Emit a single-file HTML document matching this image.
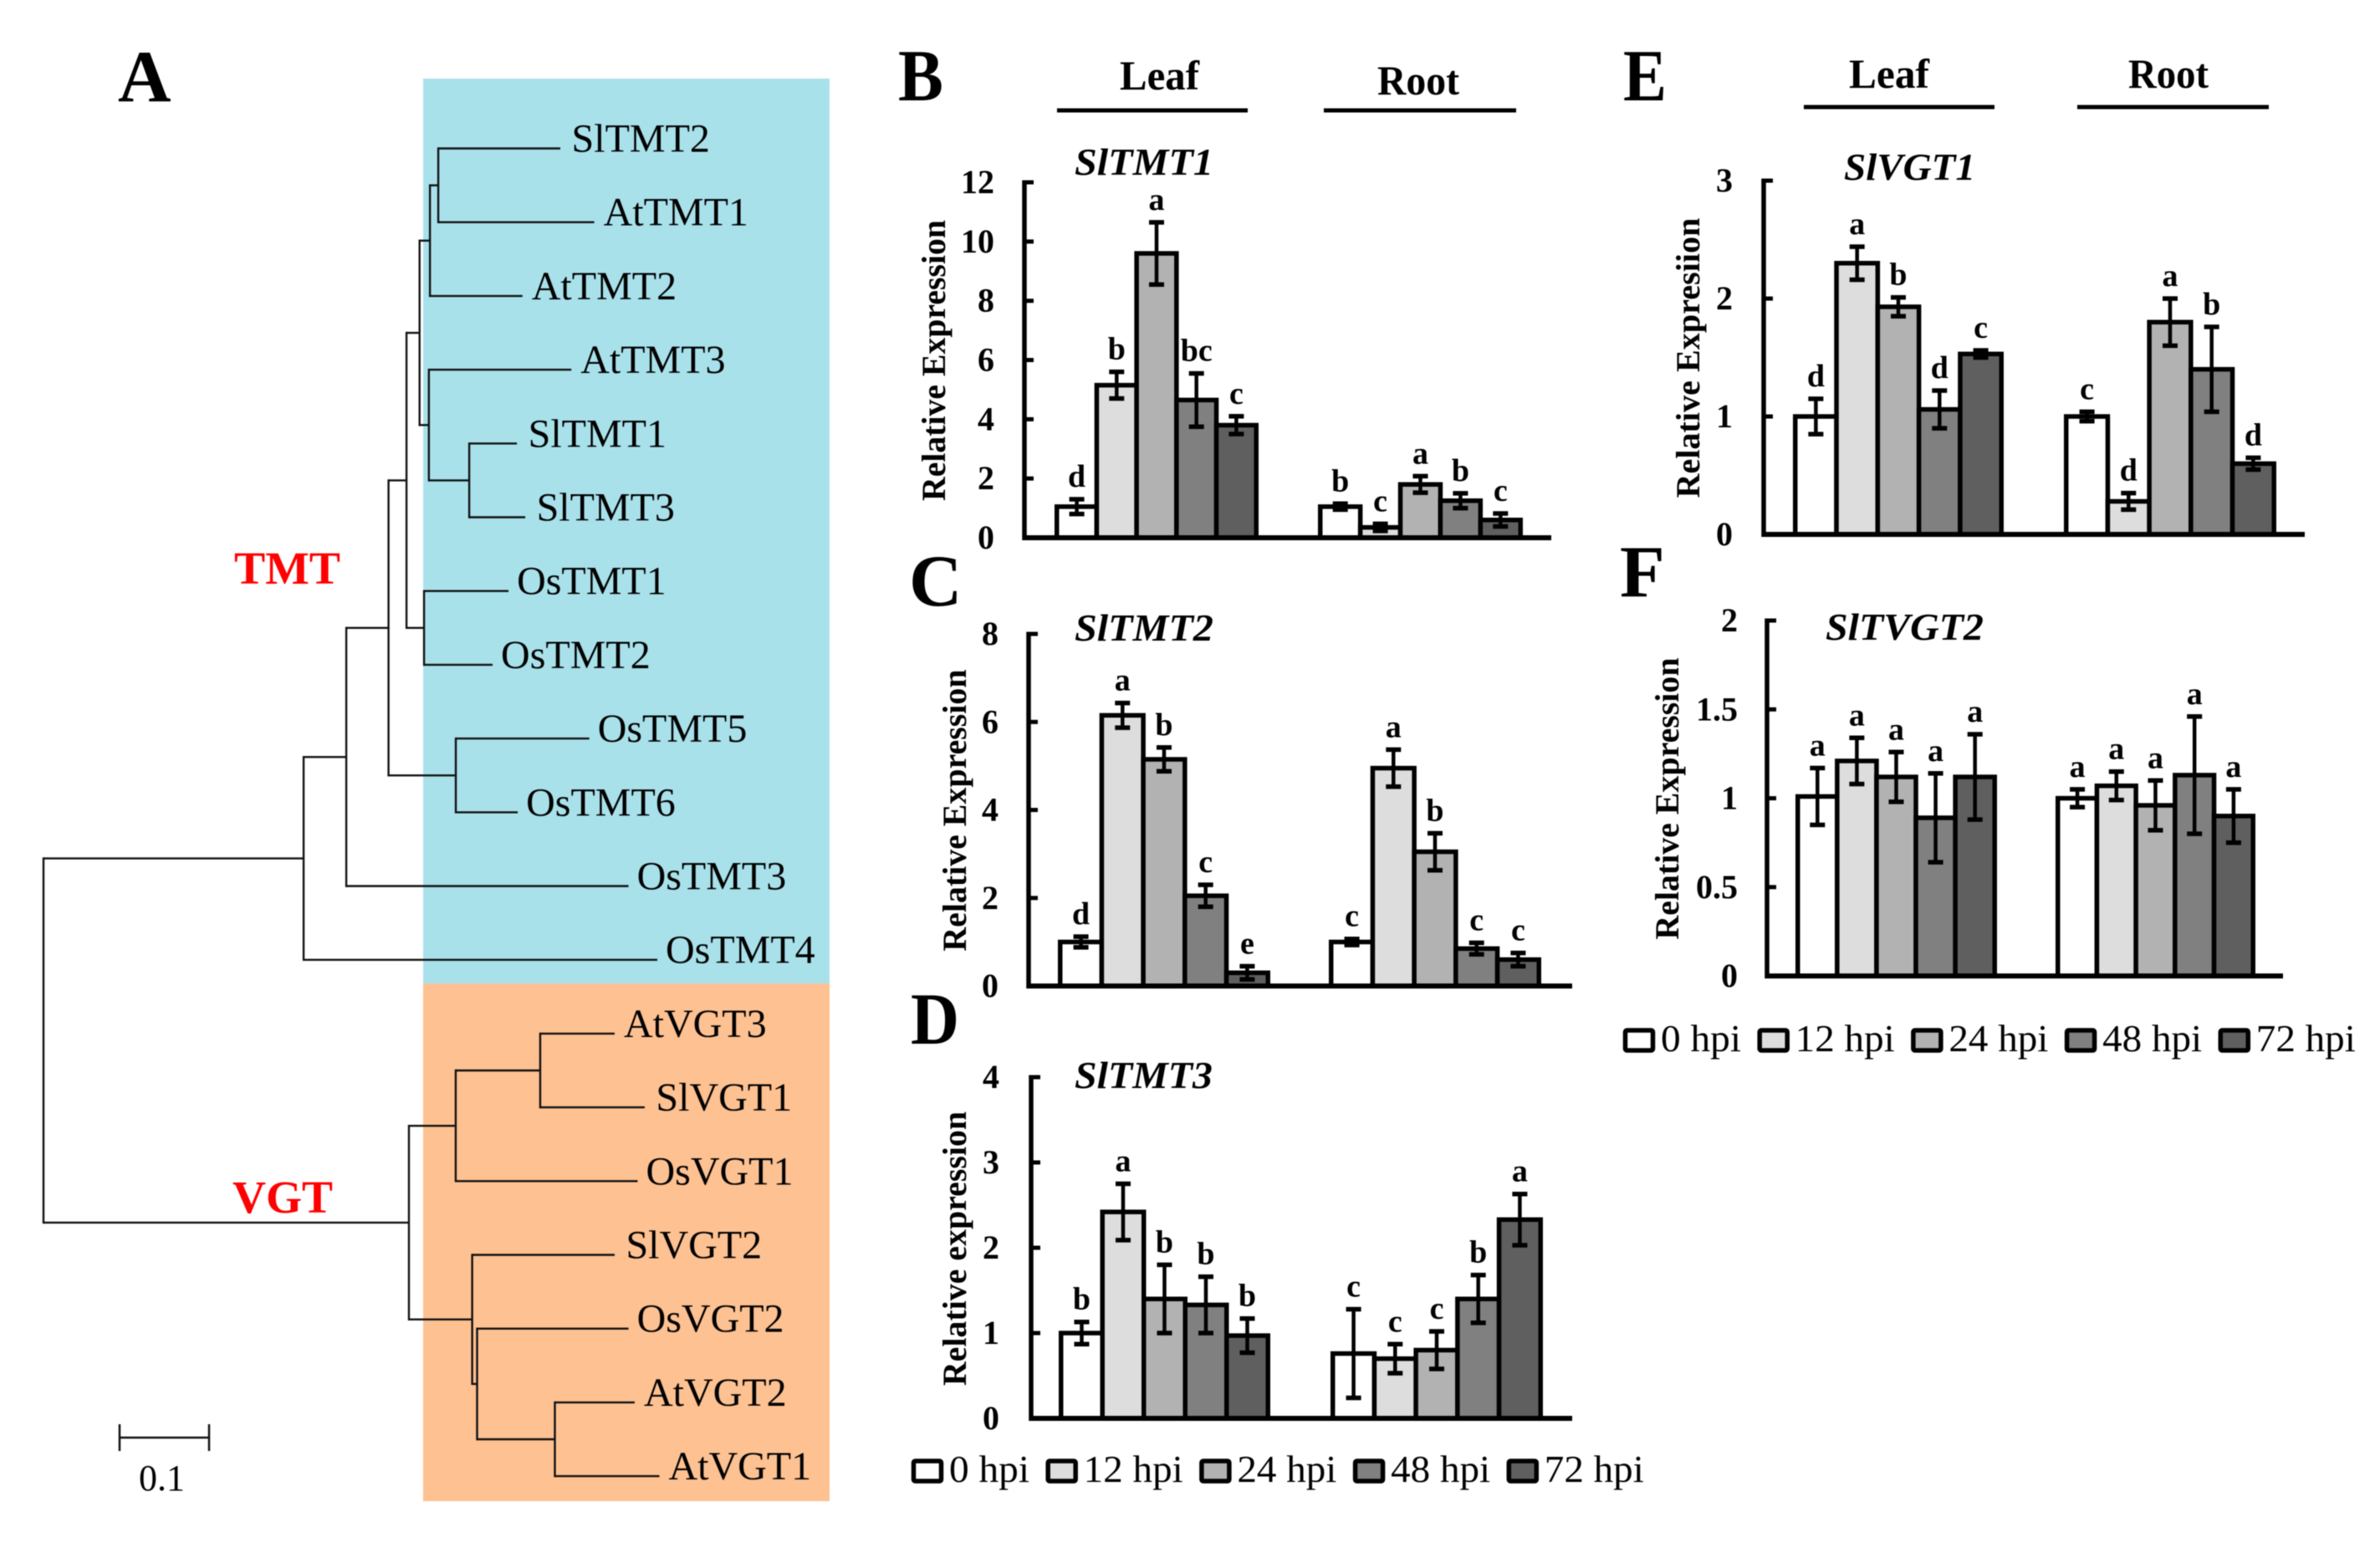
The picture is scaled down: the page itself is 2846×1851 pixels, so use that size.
<!DOCTYPE html>
<html lang="en">
<head>
<meta charset="utf-8">
<title>TMT and VGT phylogeny and expression</title>
<style>
html,body{margin:0;padding:0;background:#fff;}
svg{display:block;filter:blur(0.6px);}
text{font-family:"Liberation Serif",serif;fill:#000;}
.title{font-weight:bold;font-style:italic;font-size:46px;}
.ytitle{font-weight:bold;font-size:40px;}
.head{font-weight:bold;font-size:50px;}
.letter{font-weight:bold;font-size:88px;}
.clade{font-weight:bold;font-size:55px;fill:#f00;}
</style>
</head>
<body>
<svg id="figure" xmlns="http://www.w3.org/2000/svg" width="2846" height="1851" viewBox="0 0 2846 1851">
  <rect x="0" y="0" width="2846" height="1851" fill="#fff"/>
  <rect x="506" y="94" width="486" height="1082" fill="#a9e1eb"/>
  <rect x="506" y="1176" width="486" height="619" fill="#fdc192"/>
  <g id="tree"></g>

  <text class="letter" x="141" y="121">A</text>
  <text class="letter" x="1074" y="120" textLength="54" lengthAdjust="spacingAndGlyphs">B</text>
  <text class="letter" x="1087" y="724">C</text>
  <text class="letter" x="1089" y="1248" textLength="58" lengthAdjust="spacingAndGlyphs">D</text>
  <text class="letter" x="1941" y="120" textLength="52" lengthAdjust="spacingAndGlyphs">E</text>
  <text class="letter" x="1937" y="713">F</text>

  <text class="clade" x="280" y="698" textLength="127" lengthAdjust="spacingAndGlyphs">TMT</text>
  <text class="clade" x="278" y="1450" textLength="120" lengthAdjust="spacingAndGlyphs">VGT</text>

  <g stroke="#111" stroke-width="2.5">
    <line x1="143" y1="1719" x2="250" y2="1719"/>
    <line x1="143" y1="1703" x2="143" y2="1735"/>
    <line x1="250" y1="1703" x2="250" y2="1735"/>
  </g>
  <text x="166" y="1782" font-size="44">0.1</text>

  <text class="head" x="1339" y="107" textLength="95" lengthAdjust="spacingAndGlyphs">Leaf</text>
  <text class="head" x="1647" y="113" textLength="98" lengthAdjust="spacingAndGlyphs">Root</text>
  <rect x="1264" y="129.5" width="228" height="5"/>
  <rect x="1583" y="129.5" width="230" height="5"/>
  <text class="head" x="2211" y="105" textLength="96" lengthAdjust="spacingAndGlyphs">Leaf</text>
  <text class="head" x="2545" y="105" textLength="96" lengthAdjust="spacingAndGlyphs">Root</text>
  <rect x="2157" y="125.5" width="228" height="5"/>
  <rect x="2484" y="125.5" width="229" height="5"/>

  <text class="title" x="1285" y="209" textLength="166" lengthAdjust="spacingAndGlyphs">SlTMT1</text>
  <text class="title" x="1285" y="766" textLength="166" lengthAdjust="spacingAndGlyphs">SlTMT2</text>
  <text class="title" x="1285" y="1301" textLength="165" lengthAdjust="spacingAndGlyphs">SlTMT3</text>
  <text class="title" x="2205" y="215" textLength="157" lengthAdjust="spacingAndGlyphs">SlVGT1</text>
  <text class="title" x="2183" y="765" textLength="189" lengthAdjust="spacingAndGlyphs">SlTVGT2</text>

  <text class="ytitle" text-anchor="middle" transform="translate(1130,431) rotate(-90)" textLength="336" lengthAdjust="spacingAndGlyphs">Relative Expression</text>
  <text class="ytitle" text-anchor="middle" transform="translate(1155,969) rotate(-90)" textLength="337" lengthAdjust="spacingAndGlyphs">Relative Expression</text>
  <text class="ytitle" text-anchor="middle" transform="translate(1155,1493) rotate(-90)" textLength="328" lengthAdjust="spacingAndGlyphs">Relative expression</text>
  <text class="ytitle" text-anchor="middle" transform="translate(2032,428) rotate(-90)" textLength="335" lengthAdjust="spacingAndGlyphs">Relative Expresiion</text>
  <text class="ytitle" text-anchor="middle" transform="translate(2007,955) rotate(-90)" textLength="337" lengthAdjust="spacingAndGlyphs">Relative Expression</text>

  <g id="panel-b"></g>
  <g id="panel-c"></g>
  <g id="panel-d"></g>
  <g id="panel-e"></g>
  <g id="panel-f"></g>
  <g id="legend-d"></g>
  <g id="legend-f"></g>
</svg>
<script>
// Phylogeny: [branch length, name] or [branch length, child, child]
const treeData = [0,
  [0.2907,
    [0.0477,
      [0.0472,
        [0.0201,
          [0.0146,
            [0.0116,
              [0.0093, [0.1364, 'SlTMT2'], [0.1743, 'AtTMT1']],
              [0.1034, 'AtTMT2']],
            [0.0104,
              [0.1592, 'AtTMT3'],
              [0.0451, [0.0533, 'SlTMT1'], [0.0626, 'SlTMT3']]]],
          [0.0196, [0.0944, 'OsTMT1'], [0.0766, 'OsTMT2']]],
        [0.0752, [0.1492, 'OsTMT5'], [0.0692, 'OsTMT6']]],
      [0.3154, 'OsTMT3']],
    [0.3953, 'OsTMT4']],
  [0.4084,
    [0.0523,
      [0.0944, [0.0832, 'AtVGT3'], [0.1168, 'SlVGT1']],
      [0.2033, 'OsVGT1']],
    [0.0707,
      [0.1592, 'SlVGT2'],
      [0.0055,
        [0.1692, 'OsVGT2'],
        [0.0869, [0.0892, 'AtVGT2'], [0.1168, 'AtVGT1']]]]]
];

const legendLabels = ['0 hpi', '12 hpi', '24 hpi', '48 hpi', '72 hpi'];

const bTicks = ['0', '2', '4', '6', '8', '10', '12'];
const bLeafValues = [1.05, 5.15, 9.6, 4.65, 3.8];
const bLeafErrors = [0.25, 0.45, 1.05, 0.9, 0.3];
const bLeafLetters = ['d', 'b', 'a', 'bc', 'c'];
const bRootValues = [1.05, 0.35, 1.8, 1.25, 0.6];
const bRootErrors = [0.1, 0.12, 0.28, 0.25, 0.22];
const bRootLetters = ['b', 'c', 'a', 'b', 'c'];

const cTicks = ['0', '2', '4', '6', '8'];
const cLeafValues = [1, 6.15, 5.15, 2.05, 0.3];
const cLeafErrors = [0.12, 0.28, 0.27, 0.25, 0.15];
const cLeafLetters = ['d', 'a', 'b', 'c', 'e'];
const cRootValues = [1, 4.95, 3.05, 0.85, 0.6];
const cRootErrors = [0.07, 0.42, 0.42, 0.13, 0.15];
const cRootLetters = ['c', 'a', 'b', 'c', 'c'];

const dTicks = ['0', '1', '2', '3', '4'];
const dLeafValues = [1.0, 2.42, 1.4, 1.33, 0.97];
const dLeafErrors = [0.13, 0.33, 0.4, 0.33, 0.2];
const dLeafLetters = ['b', 'a', 'b', 'b', 'b'];
const dRootValues = [0.76, 0.7, 0.8, 1.4, 2.33];
const dRootErrors = [0.52, 0.17, 0.22, 0.28, 0.3];
const dRootLetters = ['c', 'c', 'c', 'b', 'a'];

const eTicks = ['0', '1', '2', '3'];
const eLeafValues = [1.0, 2.3, 1.93, 1.06, 1.53];
const eLeafErrors = [0.15, 0.14, 0.08, 0.16, 0.03];
const eLeafLetters = ['d', 'a', 'b', 'd', 'c'];
const eRootValues = [1.0, 0.28, 1.8, 1.4, 0.6];
const eRootErrors = [0.04, 0.07, 0.2, 0.36, 0.05];
const eRootLetters = ['c', 'd', 'a', 'b', 'd'];

const fTicks = ['0', '0.5', '1', '1.5', '2'];
const fLeafValues = [1.01, 1.21, 1.12, 0.89, 1.12];
const fLeafErrors = [0.16, 0.13, 0.14, 0.25, 0.24];
const fLeafLetters = ['a', 'a', 'a', 'a', 'a'];
const fRootValues = [1.0, 1.07, 0.96, 1.13, 0.9];
const fRootErrors = [0.05, 0.08, 0.14, 0.33, 0.15];
const fRootLetters = ['a', 'a', 'a', 'a', 'a'];

const NS = 'http://www.w3.org/2000/svg';
const barFills = ['#ffffff', '#dddddd', '#b2b2b2', '#808080', '#5f5f5f'];

function make(parent, tag, attrs, textValue) {
  const node = document.createElementNS(NS, tag);
  for (const k in attrs) node.setAttribute(k, attrs[k]);
  if (textValue !== undefined) node.textContent = textValue;
  parent.appendChild(node);
  return node;
}

/* ---------- tree ---------- */
const treeRootX = 52;
const treeUnit = 1070;
const tipTop = 177.5;
const tipStep = 88.2;
const tipGap = { S: 13.5, A: 11, O: 10 };
let tipIndex = 0;

function treeX(distance) { return treeRootX + distance * treeUnit; }
function tipY(i) { return tipTop + i * tipStep; }

function drawTreeNode(group, node, parentDistance) {
  const distance = parentDistance + node[0];
  const x = treeX(distance);
  if (typeof node[1] === 'string') {
    const y = tipY(tipIndex);
    tipIndex += 1;
    const label = make(group, 'text', { x: x + tipGap[node[1][0]], y: y + 4, 'font-size': 48 }, node[1]);
    
    
    return { x: x, y: y };
  }
  const kids = [];
  for (let i = 1; i < node.length; i++) kids.push(drawTreeNode(group, node[i], distance));
  const top = kids[0].y;
  const bottom = kids[kids.length - 1].y;
  const spine = make(group, 'line', { x1: x, y1: top, x2: x, y2: bottom, stroke: '#111', 'stroke-width': 2.4, 'stroke-linecap': 'square' });
  
  
  kids.forEach(function (kid) {
    const branch = make(group, 'line', { x1: x, y1: kid.y, x2: kid.x, y2: kid.y, stroke: '#111', 'stroke-width': 2.4 });
    
    
  });
  return { x: x, y: (top + bottom) / 2 };
}
drawTreeNode(document.getElementById('tree'), treeData, 0);

/* ---------- bar panels ---------- */
function drawGroup(group, yScale, yBase, start, end, values, errors, letters, side) {
  const sw = 5.5;
  const band = (end - start - sw) / values.length;
  const xScale = function (i) { return start + sw / 2 + i * band; };
  values.forEach(function (v, i) {
    const bar = make(group, 'rect', {
      x: xScale(i), y: yScale(v), width: band, height: yBase - yScale(v),
      fill: barFills[i], stroke: '#000', 'stroke-width': sw
    });
    
    
  });
  values.forEach(function (v, i) {
    const cx = xScale(i) + band / 2;
    const hi = yScale(v + errors[i]);
    const lo = yScale(Math.max(0, v - errors[i]));
    const stem = make(group, 'line', { x1: cx, y1: hi, x2: cx, y2: lo, stroke: '#000', 'stroke-width': 4.5 });
    
    
    const capTop = make(group, 'line', { x1: cx - 9, y1: hi, x2: cx + 9, y2: hi, stroke: '#000', 'stroke-width': 5.5 });
    
    
    const capLow = make(group, 'line', { x1: cx - 9, y1: lo, x2: cx + 9, y2: lo, stroke: '#000', 'stroke-width': 5.5 });
    
    
    const sig = make(group, 'text', {
      x: cx, y: hi - 15, 'text-anchor': 'middle', 'font-size': 38, 'font-weight': 'bold'
    }, letters[i]);
    
    
  });
}

function drawPanel(id, g) {
  const group = document.getElementById(id);
  const yMax = parseFloat(g.ticks[g.ticks.length - 1]);
  const yScale = function (v) { return g.yBase - (v / yMax) * (g.yBase - g.yTop); };
  drawGroup(group, yScale, g.yBase, g.leafStart, g.leafEnd, g.leafValues, g.leafErrors, g.leafLetters, 'leaf');
  drawGroup(group, yScale, g.yBase, g.rootStart, g.rootEnd, g.rootValues, g.rootErrors, g.rootLetters, 'root');
  const yAxis = make(group, 'line', { x1: g.x0, y1: g.yTop - 2.5, x2: g.x0, y2: g.yBase + 3, stroke: '#000', 'stroke-width': 5.5 });
  
  
  const xAxis = make(group, 'line', { x1: g.x0 - 2.5, y1: g.yBase, x2: g.xEnd, y2: g.yBase, stroke: '#000', 'stroke-width': 6 });
  
  
  g.ticks.forEach(function (t) {
    const y = yScale(parseFloat(t));
    const tick = make(group, 'line', { x1: g.x0, y1: y, x2: g.x0 + 11, y2: y, stroke: '#000', 'stroke-width': 5 });
    
    
    const tickLabel = make(group, 'text', { x: g.labelRight, y: y + 13, 'text-anchor': 'end', 'font-size': 40, 'font-weight': 'bold' }, t);
    
    
  });
}

drawPanel('panel-b', { ticks: bTicks, x0: 1225, xEnd: 1855, yTop: 218, yBase: 643, labelRight: 1189,
  leafStart: 1261, leafEnd: 1505, rootStart: 1576, rootEnd: 1821,
  leafValues: bLeafValues, leafErrors: bLeafErrors, leafLetters: bLeafLetters,
  rootValues: bRootValues, rootErrors: bRootErrors, rootLetters: bRootLetters });
drawPanel('panel-c', { ticks: cTicks, x0: 1230, xEnd: 1880, yTop: 758, yBase: 1179, labelRight: 1194,
  leafStart: 1265, leafEnd: 1519, rootStart: 1589, rootEnd: 1843,
  leafValues: cLeafValues, leafErrors: cLeafErrors, leafLetters: cLeafLetters,
  rootValues: cRootValues, rootErrors: cRootErrors, rootLetters: cRootLetters });
drawPanel('panel-d', { ticks: dTicks, x0: 1233, xEnd: 1880, yTop: 1288, yBase: 1696, labelRight: 1195,
  leafStart: 1266, leafEnd: 1519, rootStart: 1591, rootEnd: 1845,
  leafValues: dLeafValues, leafErrors: dLeafErrors, leafLetters: dLeafLetters,
  rootValues: dRootValues, rootErrors: dRootErrors, rootLetters: dRootLetters });
drawPanel('panel-e', { ticks: eTicks, x0: 2109, xEnd: 2756, yTop: 216, yBase: 639, labelRight: 2072,
  leafStart: 2144, leafEnd: 2396, rootStart: 2468, rootEnd: 2722,
  leafValues: eLeafValues, leafErrors: eLeafErrors, leafLetters: eLeafLetters,
  rootValues: eRootValues, rootErrors: eRootErrors, rootLetters: eRootLetters });
drawPanel('panel-f', { ticks: fTicks, x0: 2113, xEnd: 2730, yTop: 742, yBase: 1167, labelRight: 2078,
  leafStart: 2147, leafEnd: 2388, rootStart: 2458, rootEnd: 2697,
  leafValues: fLeafValues, leafErrors: fLeafErrors, leafLetters: fLeafLetters,
  rootValues: fRootValues, rootErrors: fRootErrors, rootLetters: fRootLetters });

/* ---------- legends ---------- */
function drawLegend(id, startX, baseline) {
  const group = document.getElementById(id);
  let cursor = startX;
  legendLabels.forEach(function (label, i) {
    const swatch = make(group, 'rect', { x: cursor + 2.5, y: baseline - 25, width: 33, height: 24, fill: barFills[i], stroke: '#000', 'stroke-width': 5.5, rx: 2 });
    
    
    const width = label.length === 5 ? 96 : 119;
    const entry = make(group, 'text', { x: cursor + 45, y: baseline, 'font-size': 46, textLength: width, lengthAdjust: 'spacingAndGlyphs' }, label);
    
    
    cursor += 45 + width + 19.7;
  });
}
drawLegend('legend-d', 1090, 1772);
drawLegend('legend-f', 1941, 1257);
</script>
</body>
</html>
